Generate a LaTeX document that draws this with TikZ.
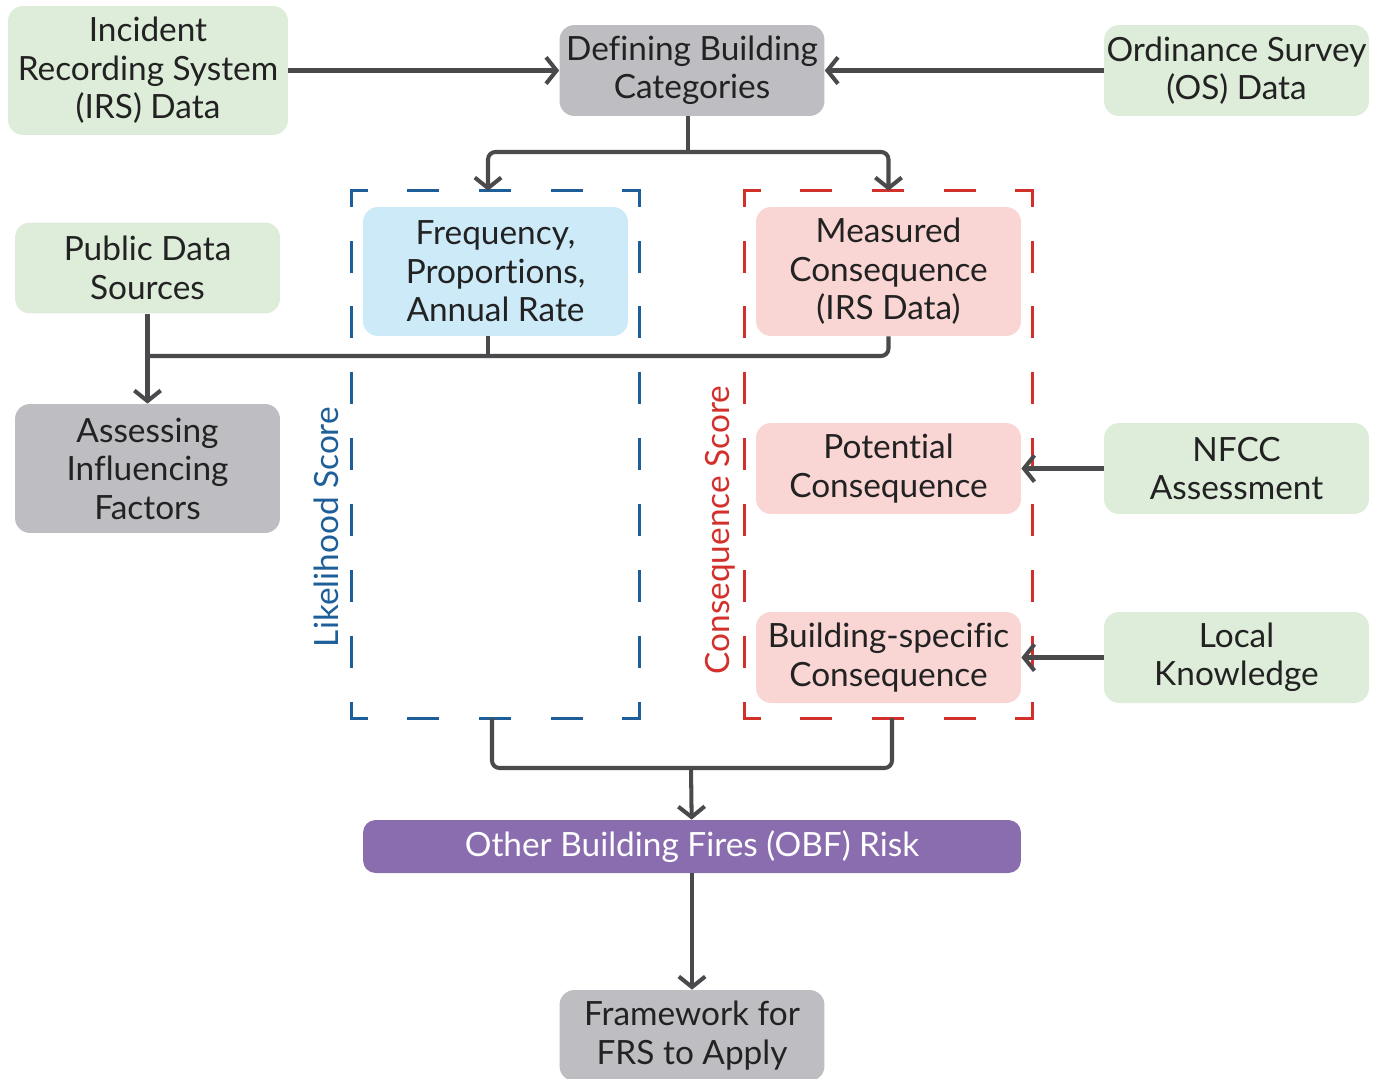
\documentclass[tikz,border=0pt]{standalone}
\usepackage{fontspec}
\setmainfont{Lato}[Ligatures={NoCommon}]
\usetikzlibrary{arrows.meta,calc}
\usepackage{xcolor}
\definecolor{srcgreen}{HTML}{DEEDDA}
\definecolor{stepgray}{HTML}{BEBEC2}
\definecolor{freqblue}{HTML}{CDEAF9}
\definecolor{conspink}{HTML}{F9D6D4}
\definecolor{riskpurple}{HTML}{8A6DAF}
\definecolor{lhblue}{HTML}{1F5F99}
\definecolor{consred}{HTML}{D3302C}
\definecolor{linegray}{HTML}{4A4A4C}
\definecolor{textdark}{HTML}{222222}

\begin{document}
\begin{tikzpicture}[x=0.02cm,y=-0.02cm,
    box/.style={rounded corners=0.3cm,align=center,inner sep=0pt,text=textdark,
      font=\fontsize{19}{21.9}\selectfont,minimum width=5.3cm,minimum height=1.82cm,
      execute at begin node={\vspace*{4pt}}},
    tall/.style={minimum height=2.58cm},
    zone/.style={minimum width=5.74cm,minimum height=10.54cm,inner sep=0pt},
    vside/.style={line width=1.4pt,line cap=rect,dash pattern=on 16.8pt off 20.7pt,dash phase=8.4pt},
    hside/.style={line width=1.4pt,line cap=rect,dash pattern=on 16.8pt off 24pt,dash phase=8.4pt},
    line/.style={draw=linegray,line width=2.3pt,rounded corners=0.15cm},
    conn/.style={line,-{Straight Barb[length=6pt,width=15pt]}}]
        \useasboundingbox (0,0) rectangle (1381,1078);

        % dashed score areas
        \node[zone] (lhood) at (495.5,454.5) {};
        \node[zone] (cons) at (888.5,454.5) {};
        \foreach \z/\c in {lhood/lhblue,cons/consred}{
          \draw[vside,\c] (\z.north west) -- (\z.south west);
          \draw[vside,\c] (\z.north east) -- (\z.south east);
          \draw[hside,\c] (\z.north west) -- (\z.north east);
          \draw[hside,\c] (\z.south west) -- (\z.south east);
        }
        \node[rotate=90,text=lhblue,font=\fontsize{19}{21.9}\selectfont] (lhlabel) at (326,527) {Likelihood Score};
        \node[rotate=90,text=consred,font=\fontsize{19}{21.9}\selectfont] (conslabel) at (720,530) {Consequence Score};

        % boxes
        \node[box,tall,fill=srcgreen,minimum width=5.6cm] (irs) at (148,70.5) {Incident\\Recording System\\(IRS) Data};
        \node[box,fill=stepgray] (def) at (692,70.5) {Defining Building\\Categories};
        \node[box,fill=srcgreen] (os) at (1236.5,70.5) {Ordinance Survey\\(OS) Data};
        \node[box,fill=srcgreen] (pub) at (147.5,268) {Public Data\\Sources};
        \node[box,tall,fill=stepgray] (assess) at (147.5,468.5) {Assessing\\Influencing\\Factors};
        \node[box,tall,fill=freqblue] (freq) at (495.5,271.5) {Frequency,\\Proportions,\\Annual Rate};
        \node[box,tall,fill=conspink] (meas) at (888.5,271.5) {Measured\\Consequence\\(IRS Data)};
        \node[box,fill=conspink] (pot) at (888.5,468.5) {Potential\\Consequence};
        \node[box,fill=conspink] (bspec) at (888.5,657.5) {Building-specific\\Consequence};
        \node[box,fill=srcgreen] (nfcc) at (1236.5,468.5) {NFCC\\Assessment};
        \node[box,fill=srcgreen] (local) at (1236.5,657.5) {Local\\Knowledge};
        \node[box,fill=riskpurple,text=white,minimum width=13.16cm,minimum height=1.06cm,rounded corners=0.25cm] (obf) at (692,846.5) {Other Building Fires (OBF) Risk};
        \node[box,fill=stepgray] (frs) at (692,1035.5) {Framework for\\FRS to Apply};

        % connectors
        \coordinate (split) at (688,152);
        \coordinate (join) at (147.5,356);
        \coordinate (merge) at (691,768);

        \draw[conn] (irs) -- (def);
        \draw[conn] (os) -- (def);
        \draw[line] (def.south -| split) -- (split);
        \draw[conn] (split) -| (lhood.north -| 488,0);
        \draw[conn] (split) -| (cons.north);

        \draw[conn] (pub) -- (assess);
        \draw[line] (meas.south) |- (join);
        \draw[line] (freq.south -| 488,0) -- (488,356);

        \draw[conn] (nfcc) -- (pot);
        \draw[conn] (local) -- (bspec);

        \draw[line] (lhood.south -| 492,0) |- (merge) -| (cons.south -| 892,0);
        \draw[conn] (merge) -- (obf);
        \draw[conn] (obf) -- (frs);

      \end{tikzpicture}
\end{document}
